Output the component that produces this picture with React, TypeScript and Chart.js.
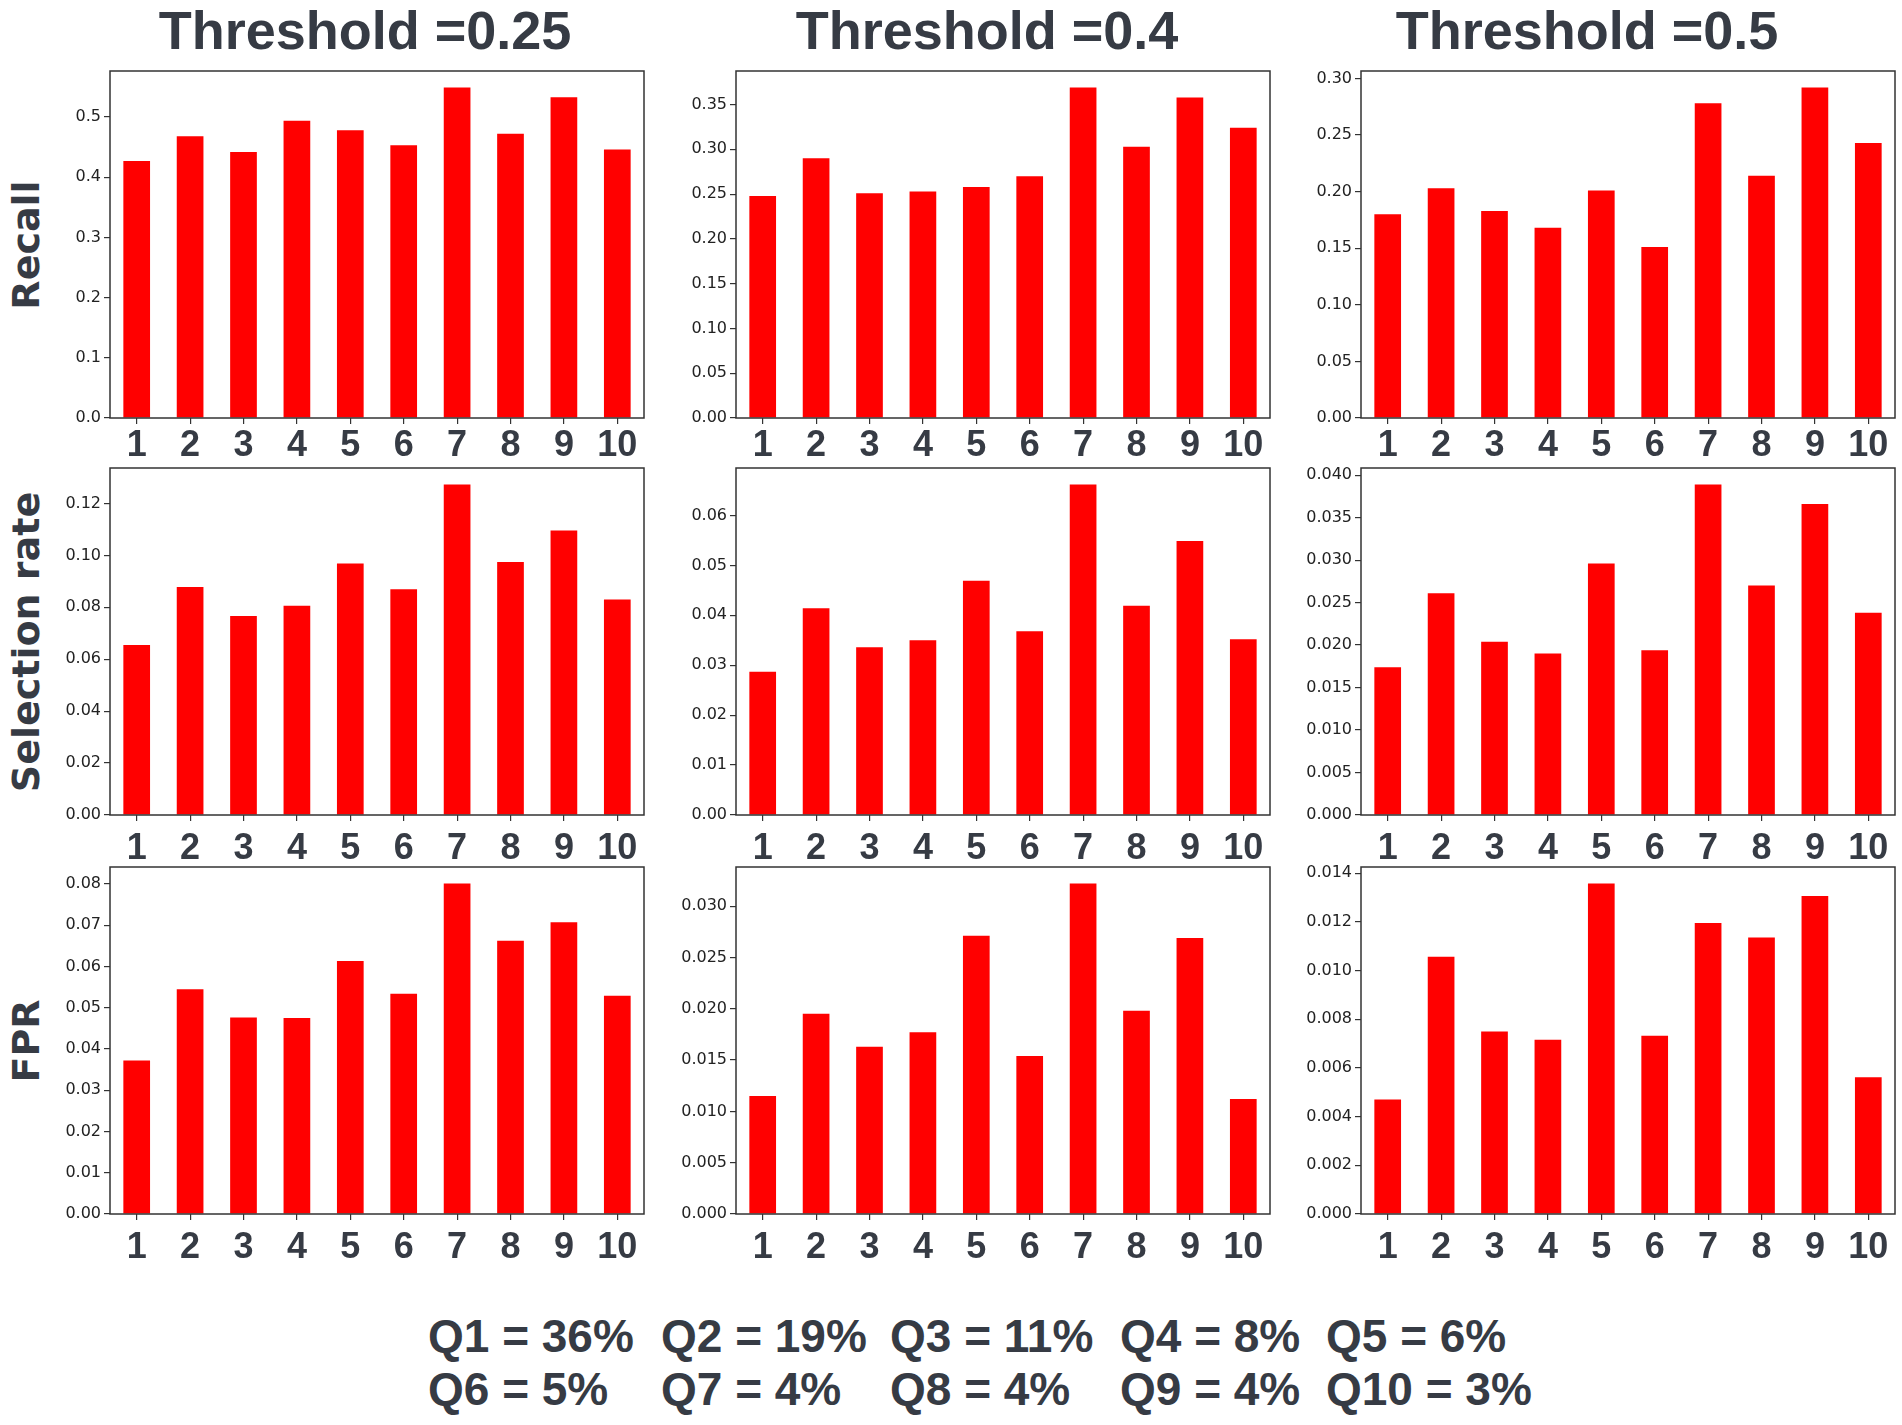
import { useEffect, useRef } from 'react';
import { Chart, registerables } from 'chart.js';

Chart.register(...registerables);

// categories (deciles) and panel titles
const quantiles = ['1', '2', '3', '4', '5', '6', '7', '8', '9', '10'];
const thresholds = ['Threshold =0.25', 'Threshold =0.4', 'Threshold =0.5'];
const metrics = ['Recall', 'Selection rate', 'FPR'];

// values
const recall025 = [0.427, 0.468, 0.442, 0.494, 0.478, 0.453, 0.549, 0.472, 0.533, 0.446];
const recall04 = [0.248, 0.29, 0.251, 0.253, 0.258, 0.27, 0.369, 0.303, 0.358, 0.324];
const recall05 = [0.18, 0.203, 0.183, 0.168, 0.201, 0.151, 0.278, 0.214, 0.292, 0.243];

const selection025 = [0.0655, 0.0878, 0.0767, 0.0806, 0.0969, 0.087, 0.1273, 0.0975, 0.1096, 0.083];
const selection04 = [0.0287, 0.0414, 0.0336, 0.035, 0.0469, 0.0368, 0.0662, 0.0419, 0.0549, 0.0352];
const selection05 = [0.0174, 0.0261, 0.0204, 0.019, 0.0296, 0.0194, 0.0389, 0.027, 0.0366, 0.0238];

const fpr025 = [0.0372, 0.0545, 0.0476, 0.0475, 0.0613, 0.0534, 0.0801, 0.0662, 0.0707, 0.0529];
const fpr04 = [0.0115, 0.0195, 0.0163, 0.0177, 0.0271, 0.0154, 0.0322, 0.0198, 0.0269, 0.0112];
const fpr05 = [0.0047, 0.01057, 0.0075, 0.00716, 0.01358, 0.00732, 0.01196, 0.01136, 0.01307, 0.00562];

// y tick spacing and label decimals, per row / column
const yStep = [
  [0.1, 0.05, 0.05],
  [0.02, 0.01, 0.005],
  [0.01, 0.005, 0.002],
];
const yDecimals = [
  [1, 2, 2],
  [2, 2, 3],
  [2, 3, 3],
];

// share of each decile, shown under the grid
const shareLine1 = ['Q1 = 36%', 'Q2 = 19%', 'Q3 = 11%', 'Q4 = 8%', 'Q5 = 6%'];
const shareLine2 = ['Q6 = 5%', 'Q7 = 4%', 'Q8 = 4%', 'Q9 = 4%', 'Q10 = 3%'];

const grid = [
  [recall025, recall04, recall05],
  [selection025, selection04, selection05],
  [fpr025, fpr04, fpr05],
];

// layout (page pixels)
const colLeft = [110, 736, 1361];
const colWidth = [534, 534, 534];
const rowTop = [71, 468, 867];
const plotHeight = 347;
const xLabelPad = [0, 6, 6];
const titleX = [365, 987, 1587];
const shareX = [428, 661, 890, 1120, 1326];

const TEXT = '#363b44';
const AXIS = '#333333';
const Y_AXIS_W = 90;
const X_AXIS_H = 64;
const PAD_TOP = 20;
const PAD_RIGHT = 12;

const framePlugin = {
  id: 'frame',
  afterDraw(chart: Chart) {
    const { ctx, chartArea: a } = chart;
    ctx.save();
    ctx.strokeStyle = AXIS;
    ctx.lineWidth = 1.5;
    ctx.strokeRect(a.left, a.top, a.right - a.left, a.bottom - a.top);
    ctx.restore();
  },
};

interface PanelProps {
  values: number[];
  step: number;
  decimals: number;
  labelPad: number;
  left: number;
  top: number;
  width: number;
}

function BarPanel({ values, step, decimals, labelPad, left, top, width }: PanelProps) {
  const canvasRef = useRef<HTMLCanvasElement>(null);
  const chartRef = useRef<Chart | null>(null);

  const w = Y_AXIS_W + width + PAD_RIGHT;
  const h = PAD_TOP + plotHeight + X_AXIS_H;

  useEffect(() => {
    if (!canvasRef.current) return;
    if (chartRef.current) chartRef.current.destroy();

    chartRef.current = new Chart(canvasRef.current, {
      type: 'bar',
      data: {
        labels: quantiles,
        datasets: [
          {
            data: values,
            backgroundColor: '#ff0000',
            borderWidth: 0,
            categoryPercentage: 1,
            barPercentage: 0.5,
          },
        ],
      },
      options: {
        animation: false,
        responsive: false,
        layout: { padding: { top: PAD_TOP, right: PAD_RIGHT, left: 0, bottom: 0 } },
        plugins: {
          legend: { display: false },
          tooltip: { enabled: false },
        },
        scales: {
          x: {
            offset: true,
            afterFit: (s: any) => {
              s.height = X_AXIS_H;
            },
            grid: {
              offset: false,
              drawOnChartArea: false,
              drawTicks: true,
              tickLength: 6,
              color: AXIS,
              lineWidth: 1.2,
            },
            border: { display: false },
            ticks: {
              color: TEXT,
              padding: labelPad,
              maxRotation: 0,
              autoSkip: false,
              font: { family: '"Liberation Sans", Arial, sans-serif', size: 36, weight: 'bold' },
            },
          },
          y: {
            min: 0,
            max: Math.max(...values) * 1.05,
            afterFit: (s: any) => {
              s.width = Y_AXIS_W;
            },
            grid: {
              drawOnChartArea: false,
              drawTicks: true,
              tickLength: 6,
              color: AXIS,
              lineWidth: 1.2,
            },
            border: { display: false },
            ticks: {
              stepSize: step,
              includeBounds: false,
              color: '#222222',
              padding: 3,
              font: { family: '"DejaVu Sans", sans-serif', size: 16 },
              callback: (v: any) => Number(v).toFixed(decimals),
            },
          },
        },
      },
      plugins: [framePlugin],
    });

    return () => {
      if (chartRef.current) {
        chartRef.current.destroy();
        chartRef.current = null;
      }
    };
  }, [values, step, decimals, labelPad]);

  return (
    <canvas
      ref={canvasRef}
      width={w}
      height={h}
      style={{ position: 'absolute', left: left - Y_AXIS_W, top: top - PAD_TOP, width: w, height: h }}
    />
  );
}

// place text so that its baseline sits at y (line-height 1, Liberation Sans)
function baselineTop(y: number, size: number) {
  return y - 0.8465 * size;
}

export default function App() {
  return (
    <div
      style={{
        position: 'absolute',
        left: 0,
        top: 0,
        width: 1902,
        height: 1425,
        background: '#ffffff',
        overflow: 'hidden',
      }}
    >
      {thresholds.map((t, c) => (
        <div
          key={t}
          style={{
            position: 'absolute',
            left: titleX[c],
            top: baselineTop(49, 54),
            transform: 'translateX(-50%)',
            font: 'bold 54px "Liberation Sans", Arial, sans-serif',
            lineHeight: 1,
            color: TEXT,
            whiteSpace: 'nowrap',
          }}
        >
          {t}
        </div>
      ))}

      {metrics.map((m, r) => (
        <div
          key={m}
          style={{
            position: 'absolute',
            left: 26,
            top: rowTop[r] + plotHeight / 2,
            transform: 'translate(-50%, -50%) rotate(-90deg)',
            font: 'bold 38px "DejaVu Sans", sans-serif',
            lineHeight: 1,
            color: TEXT,
            whiteSpace: 'nowrap',
          }}
        >
          {m}
        </div>
      ))}

      {grid.map((row, r) =>
        row.map((values, c) => (
          <BarPanel
            key={`${r}-${c}`}
            values={values}
            step={yStep[r][c]}
            decimals={yDecimals[r][c]}
            labelPad={xLabelPad[r]}
            left={colLeft[c]}
            top={rowTop[r]}
            width={colWidth[c]}
          />
        ))
      )}

      {[shareLine1, shareLine2].map((line, i) =>
        line.map((txt, j) => (
          <div
            key={txt}
            style={{
              position: 'absolute',
              left: shareX[j],
              top: baselineTop(i === 0 ? 1352 : 1405, 46),
              font: 'bold 46px "Liberation Sans", Arial, sans-serif',
              lineHeight: 1,
              color: TEXT,
              whiteSpace: 'nowrap',
            }}
          >
            {txt}
          </div>
        ))
      )}
    </div>
  );
}
